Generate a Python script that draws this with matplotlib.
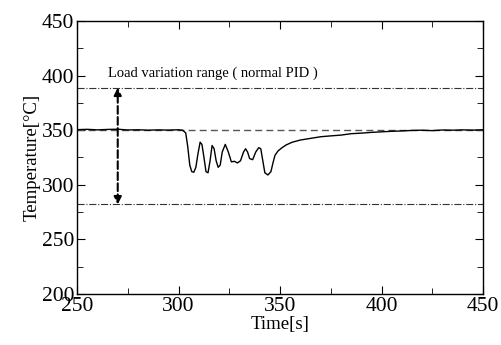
import matplotlib.pyplot as plt
from matplotlib.ticker import MultipleLocator

plt.rcParams['font.family'] = ['Liberation Serif', 'DejaVu Serif']

time = [250, 255, 260, 265, 270, 275, 280, 285, 290, 295, 300, 302, 303.5,
        304.5, 305.5, 306.5, 307.5, 308.5, 309.5, 310.6, 311.5, 312.5, 313.5,
        314.5, 315.5, 316.5, 317.5, 318.5, 319.5, 320.5, 321.5, 323, 324.5,
        326, 327.5, 329, 330.5, 332, 333, 334, 335, 336.5, 338, 339.5, 340.5,
        341.5, 342.5, 344, 345.5, 346.5, 347.5, 349, 351, 353, 356, 360, 365,
        370, 375, 380, 385, 390, 395, 400, 405, 410, 415, 420, 425, 430, 435,
        440, 445, 450]
temp = [350.5, 350.8, 350.3, 350.7, 350.9, 350.2, 350.4, 350.0, 350.3, 350.1,
        350.4, 350.0, 347.5, 335, 318, 312, 311.5, 316, 328, 339, 337, 325,
        312, 311, 322, 336, 333, 322, 316, 318, 330, 337, 330, 321, 321.5,
        320, 322, 330, 333, 330, 324, 323, 330, 334, 333, 322, 311, 309,
        312, 320, 327, 331, 334, 336.5, 339, 341, 342.5, 344, 344.8, 345.5,
        346.8, 347.3, 348, 348.5, 349, 349.3, 349.8, 350, 349.6, 350.2, 350,
        350.3, 350.1, 350.4]

setpoint = 350
upper = 389
lower = 282
arrow_t = 270
label = 'Load variation range ( normal PID )'

fig = plt.figure(figsize=(5.01, 3.45), dpi=100)
ax = fig.add_axes([0.154, 0.148, 0.81, 0.791])

ax.axhline(setpoint, color='#555555', lw=1, ls=(0, (5, 3)))
ax.axhline(upper, color='#333333', lw=0.8, ls='-.')
ax.axhline(lower, color='#333333', lw=0.8, ls='-.')
ax.plot(time, temp, color='black', lw=1)

ax.annotate('', xy=(arrow_t, upper), xytext=(arrow_t, lower),
            arrowprops=dict(arrowstyle='<|-|>', color='black', lw=1.5,
                            ls='--', mutation_scale=11, shrinkA=0, shrinkB=0))
ax.text(265, 396, label, fontsize=10.5, va='bottom', ha='left')

ax.set_xlim(250, 450)
ax.set_ylim(200, 450)
ax.xaxis.set_major_locator(MultipleLocator(50))
ax.xaxis.set_minor_locator(MultipleLocator(25))
ax.yaxis.set_major_locator(MultipleLocator(50))
ax.yaxis.set_minor_locator(MultipleLocator(25))
ax.tick_params(which='both', direction='in', top=True, right=True,
               labelsize=15.5, pad=2)
ax.tick_params(which='major', length=6)
ax.tick_params(which='minor', length=4)
for s in ax.spines.values():
    s.set_linewidth(1)

ax.set_xlabel('Time[s]', fontsize=13.5, labelpad=0)
ax.set_ylabel('Temperature[°C]', fontsize=13.5, labelpad=1)

plt.savefig('out.png', dpi=100)
